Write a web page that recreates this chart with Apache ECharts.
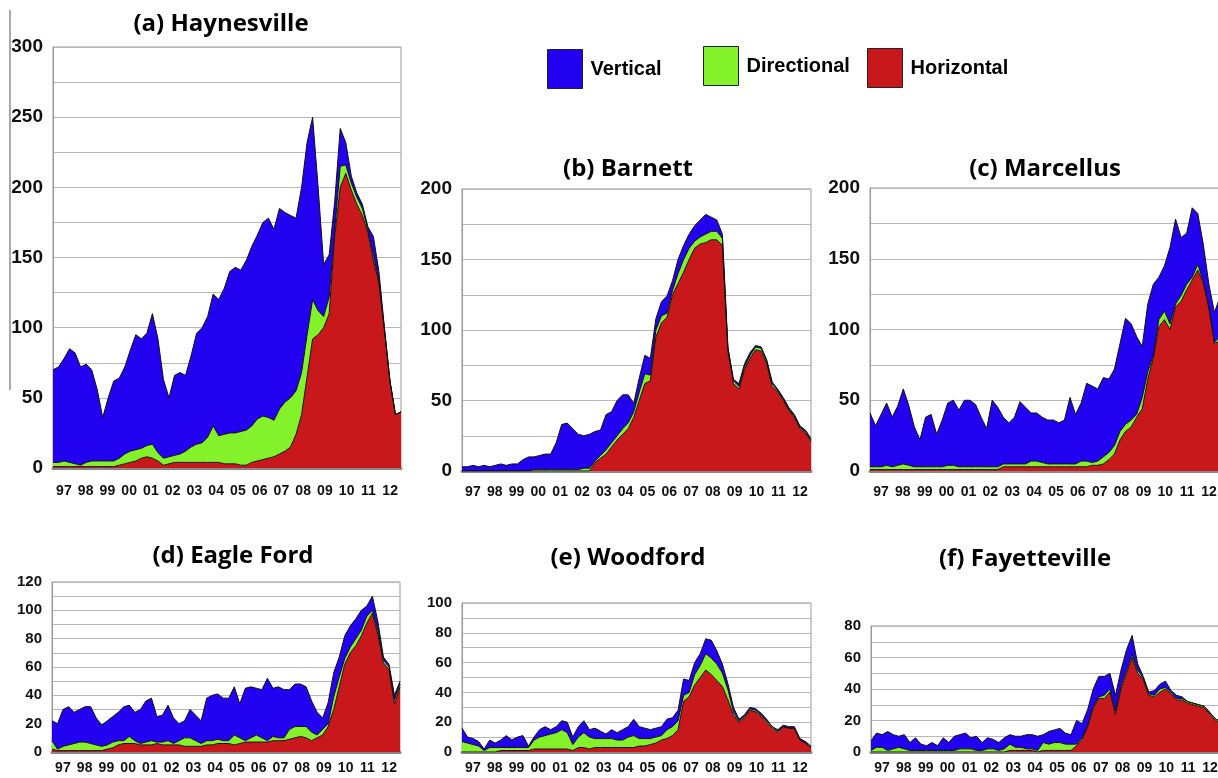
<!DOCTYPE html>
<html>
<head>
<meta charset="utf-8">
<script src="https://cdn.jsdelivr.net/npm/echarts@6/dist/echarts.min.js"></script>
<style>
html, body { margin: 0; padding: 0; background: #fff; }
#main { width: 1218px; height: 778px; }
</style>
</head>
<body>
<div id="main"></div>
<script>
const years = ['97', '98', '99', '00', '01', '02', '03', '04', '05', '06', '07', '08', '09', '10', '11', '12'];
const quarters = [];
years.forEach(function (y) {
    for (let q = 1; q <= 4; q++) quarters.push(y + 'Q' + q);
});

// rig counts, one value per quarter, 1997 Q1 .. 2012 Q4
const haynesvilleHorizontal = [1,1,1,1,1,1,1,1,1,1,1,1,2,3,4,5,7,8,7,5,2,3,4,4,4,4,4,4,4,4,4,3,3,3,2,2,4,5,6,7,8,10,12,15,24,38,65,92,95,100,110,165,200,210,198,188,180,168,148,132,98,62,38,40];
const haynesvilleDirectional = [3,3,4,3,2,1,3,4,4,4,4,4,5,7,8,8,7,8,10,6,5,5,5,6,8,11,13,14,18,26,19,21,22,22,24,25,26,30,31,29,26,32,35,35,31,30,30,28,17,8,12,5,15,6,5,5,5,2,4,2,1,0,0,0];
const haynesvilleVertical = [66,68,73,81,79,70,70,65,51,31,45,57,57,62,72,82,78,80,93,81,56,42,57,58,54,65,79,82,86,94,97,104,115,118,115,121,128,131,138,142,136,143,135,130,123,132,137,130,88,37,30,20,27,16,5,3,3,2,13,6,1,0,0,0];

const barnettHorizontal = [0,0,0,0,0,0,0,0,0,0,0,0,0,0,0,0,0,0,0,0,0,0,0,0,6,9,12,17,22,26,30,38,50,62,64,95,105,109,125,133,141,150,158,161,162,164,164,160,85,62,58,72,80,86,85,76,60,56,50,43,38,30,27,21];
const barnettDirectional = [0,0,0,0,0,0,0,0,0,0,0,0,0,1,1,1,1,1,1,1,1,1,2,2,1,2,3,3,3,4,4,4,6,7,4,5,5,3,3,7,9,8,5,5,6,6,6,5,2,2,2,2,2,2,2,2,2,1,1,1,1,1,1,1];
const barnettVertical = [3,3,4,3,4,3,4,5,4,5,5,8,10,9,10,11,11,19,32,33,29,25,23,24,21,18,25,22,25,24,20,6,10,13,12,8,10,12,7,10,10,10,11,12,14,10,8,3,1,1,2,2,2,1,1,1,1,1,1,1,1,1,1,1];

const marcellusHorizontal = [1,1,1,1,1,1,1,1,1,1,1,1,1,1,1,1,1,1,1,1,1,1,1,1,3,3,3,3,3,3,3,3,3,3,3,3,3,3,3,3,4,4,5,8,12,22,28,31,38,44,65,80,102,107,100,116,120,128,135,142,133,115,90,92];
const marcellusDirectional = [2,2,2,3,2,3,4,3,2,2,2,2,2,2,3,3,2,2,2,2,2,2,2,2,2,2,2,2,2,4,4,3,2,2,2,2,2,2,4,4,2,3,5,5,6,6,5,5,2,8,5,2,5,6,4,2,4,4,2,4,1,1,1,3];
const marcellusVertical = [38,29,37,44,35,42,53,42,28,19,35,37,23,33,44,46,40,47,47,44,35,27,47,42,33,29,33,44,40,34,34,32,31,31,29,31,47,35,41,55,54,51,56,52,54,62,75,68,55,36,48,50,30,32,54,60,41,36,49,36,26,16,21,28];

const eagleFordHorizontal = [2,1,1,1,1,1,1,1,1,1,2,3,5,6,6,6,5,5,5,6,5,5,5,5,4,4,4,4,5,5,6,6,6,5,6,7,7,7,7,7,8,8,8,9,10,11,10,8,10,12,18,30,46,62,70,75,82,91,98,83,63,58,34,46];
const eagleFordDirectional = [6,1,3,4,5,6,6,5,4,3,3,4,3,2,5,2,1,2,3,1,2,3,1,3,6,6,4,2,3,3,3,2,2,7,4,1,3,5,3,1,3,2,2,7,8,7,8,6,2,4,2,9,7,4,4,5,4,5,2,3,2,2,3,2];
const eagleFordVertical = [14,18,26,27,22,23,25,26,19,15,17,18,20,24,22,20,24,29,30,18,19,25,18,12,12,20,18,16,30,32,32,30,30,34,24,37,36,33,34,44,34,36,34,28,30,30,28,22,16,8,15,17,14,16,15,14,14,7,10,6,2,2,3,2];

const woodfordHorizontal = [0,0,0,0,0,0,0,1,1,1,1,1,1,2,2,2,2,2,2,2,1,3,3,2,3,3,3,3,3,3,3,3,4,4,5,6,8,9,11,15,34,37,45,50,55,52,48,44,35,25,20,23,28,27,24,20,16,13,17,16,16,8,6,3];
const woodfordDirectional = [7,6,5,4,1,3,3,2,2,2,2,2,2,6,8,9,10,11,13,11,4,7,10,8,6,6,6,6,5,5,7,8,5,5,4,4,3,6,6,6,4,3,7,8,11,11,11,9,7,2,1,1,1,1,1,1,1,1,0,0,0,0,0,0];
const woodfordVertical = [9,4,4,3,1,5,3,5,8,5,7,8,1,2,5,6,3,4,6,7,5,7,8,5,7,5,3,6,5,7,7,11,8,7,6,6,6,7,6,7,11,8,8,8,10,12,9,6,4,3,1,1,1,1,1,1,0,1,1,1,1,1,1,1];

const fayettevilleHorizontal = [0,0,0,0,0,0,0,0,0,0,0,0,0,0,0,0,0,0,0,0,0,0,0,0,0,1,1,1,1,1,0,1,1,1,1,1,1,4,8,16,28,34,34,38,24,40,50,60,50,46,36,35,38,40,37,33,33,31,30,29,28,24,20,18];
const fayettevilleDirectional = [1,3,3,1,2,3,2,1,1,1,1,1,1,1,1,1,2,2,2,1,1,2,2,1,2,4,2,2,1,1,1,5,4,5,5,4,4,1,1,1,1,1,2,2,2,2,2,2,2,1,1,1,2,1,1,1,1,1,1,1,1,1,1,1];
const fayettevilleVertical = [6,9,8,12,9,7,9,5,8,4,3,5,3,8,5,9,9,10,7,9,5,7,6,5,7,6,7,7,9,9,9,5,8,8,9,7,6,15,9,10,11,13,12,10,10,10,13,12,4,1,1,3,3,4,1,2,1,0,0,0,0,0,0,0];

const COLORS = { Vertical: '#2200f0', Directional: '#84f22a', Horizontal: '#c8181c' };

const panels = [
    { title: '(a) Haynesville', tx: 216, ty: 7, box: [53, 47, 348, 421], max: 300, step: 25, every: 50, yFont: 19, xMargin: 16,
      h: haynesvilleHorizontal, d: haynesvilleDirectional, v: haynesvilleVertical },
    { title: '(b) Barnett', tx: 623, ty: 152, box: [462, 189, 349, 282], max: 200, step: 25, every: 50, yFont: 19, xMargin: 14,
      h: barnettHorizontal, d: barnettDirectional, v: barnettVertical },
    { title: '(c) Marcellus', tx: 1040, ty: 152, box: [870, 188, 350, 283], max: 200, step: 25, every: 50, yFont: 19, xMargin: 14,
      h: marcellusHorizontal, d: marcellusDirectional, v: marcellusVertical },
    { title: '(d) Eagle Ford', tx: 228, ty: 539, box: [52, 582, 348, 170], max: 120, step: 10, every: 20, yFont: 15, xMargin: 9,
      h: eagleFordHorizontal, d: eagleFordDirectional, v: eagleFordVertical },
    { title: '(e) Woodford', tx: 623, ty: 541, box: [462, 603, 349, 149], max: 100, step: 10, every: 20, yFont: 15, xMargin: 9,
      h: woodfordHorizontal, d: woodfordDirectional, v: woodfordVertical },
    { title: '(f) Fayetteville', tx: 1020, ty: 542, box: [871, 626, 350, 126], max: 80, step: 10, every: 20, yFont: 15, xMargin: 9,
      h: fayettevilleHorizontal, d: fayettevilleDirectional, v: fayettevilleVertical }
];

const option = {
    animation: false,
    backgroundColor: '#fff',
    title: [],
    grid: [],
    xAxis: [],
    yAxis: [],
    series: [],
    legend: [
        { name: 'Vertical', left: 547, top: 49 },
        { name: 'Directional', left: 703, top: 46 },
        { name: 'Horizontal', left: 867, top: 48 }
    ].map(function (l) {
        return {
            data: [l.name],
            left: l.left,
            top: l.top,
            padding: 0,
            selectedMode: false,
            icon: 'rect',
            itemWidth: 35,
            itemHeight: 39,
            itemStyle: { borderColor: '#222', borderWidth: 1 },
            textStyle: { fontFamily: 'Liberation Sans', fontWeight: 'bold', fontSize: 20, color: '#000', padding: [0, 0, 0, 3] }
        };
    }),
    graphic: [{
        type: 'line',
        shape: { x1: 10, y1: 10, x2: 10, y2: 390 },
        style: { stroke: '#555', lineWidth: 1 }
    }]
};

panels.forEach(function (p, g) {
    option.title.push({
        text: p.title,
        left: p.tx,
        top: p.ty,
        textAlign: 'center',
        textStyle: { fontFamily: 'Open Sans', fontWeight: 'bold', fontSize: 24, color: '#000' }
    });
    option.grid.push({
        left: p.box[0], top: p.box[1], width: p.box[2], height: p.box[3],
        containLabel: false, outerBoundsMode: 'none',
        show: true, backgroundColor: '#fff', borderColor: '#999', borderWidth: 1
    });
    // data axis
    option.xAxis.push({
        type: 'category', gridIndex: g, data: quarters, boundaryGap: false,
        axisLine: { lineStyle: { color: '#888', width: 3 } },
        axisTick: { show: false }, axisLabel: { show: false }, splitLine: { show: false }
    });
    // year label axis
    option.xAxis.push({
        type: 'category', gridIndex: g, data: years, boundaryGap: true, position: 'bottom',
        axisLine: { show: false }, axisTick: { show: false }, splitLine: { show: false },
        axisLabel: {
            interval: 0, margin: p.xMargin, color: '#111',
            fontFamily: '"Liberation Sans Narrow", "Liberation Sans"', fontWeight: 'bold', fontSize: 14
        }
    });
    option.yAxis.push({
        type: 'value', gridIndex: g, min: 0, max: p.max, interval: p.step,
        axisLine: { show: true, lineStyle: { color: '#999' } },
        axisTick: { show: false },
        axisLabel: {
            margin: 10, color: '#111', fontFamily: 'Liberation Sans', fontWeight: 'bold', fontSize: p.yFont,
            formatter: function (v) { return v % p.every === 0 ? String(v) : ''; }
        },
        splitLine: { lineStyle: { color: '#b8b8b8', width: 1 } }
    });
    [['Horizontal', p.h], ['Directional', p.d], ['Vertical', p.v]].forEach(function (s) {
        option.series.push({
            name: s[0],
            type: 'line',
            xAxisIndex: g * 2,
            yAxisIndex: g,
            stack: 'panel' + g,
            data: s[1],
            color: COLORS[s[0]],
            symbol: 'none',
            lineStyle: { color: '#111', width: 1 },
            areaStyle: { color: COLORS[s[0]], opacity: 1 },
            silent: true
        });
    });
});

const chart = echarts.init(document.getElementById('main'));
chart.setOption(option);
</script>
</body>
</html>
